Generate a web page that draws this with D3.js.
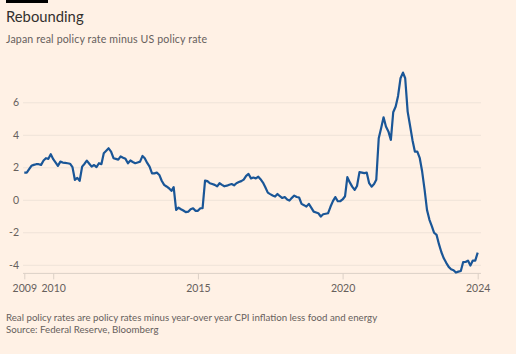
<!DOCTYPE html>
<html>
<head>
<meta charset="utf-8">
<script src="https://cdn.jsdelivr.net/npm/d3@7"></script>
<style>
    body { margin: 0; background: #fff1e5; }
    svg { display: block; font-family: Lato, "Noto Sans", sans-serif; }
</style>
</head>
<body>
<div id="container"></div>
<script>
// Monthly series, Jan 2009 .. Sep 2024 (percentage points)
const startMonth = new Date(2009, 0, 1);
const spreadValues = [
    1.70, 1.70, 1.90, 2.12, 2.18, 2.22, 2.22, 2.18, 2.45, 2.59, 2.55, 2.84,   // 2009
    2.53, 2.32, 2.12, 2.38, 2.32, 2.30, 2.28, 2.25, 2.04, 1.26, 1.38, 1.20,   // 2010
    2.07, 2.25, 2.44, 2.25, 2.07, 2.17, 2.04, 2.28, 2.22, 2.90, 3.05, 3.20,   // 2011
    3.00, 2.59, 2.55, 2.50, 2.70, 2.62, 2.55, 2.28, 2.45, 2.36, 2.28, 2.33,   // 2012
    2.38, 2.73, 2.59, 2.30, 2.07, 1.66, 1.66, 1.70, 1.56, 1.20, 0.95, 0.85,   // 2013
    0.74, 0.58, 0.81, -0.59, -0.45, -0.55, -0.63, -0.73, -0.70, -0.55, -0.49, -0.65, // 2014
    -0.65, -0.49, -0.49, 1.21, 1.18, 1.05, 1.00, 0.95, 0.86, 1.05, 0.95, 0.86, // 2015
    0.90, 0.96, 1.00, 0.92, 1.05, 1.12, 1.18, 1.27, 1.50, 1.62, 1.35, 1.40,   // 2016
    1.35, 1.45, 1.30, 1.09, 0.80, 0.47, 0.38, 0.30, 0.23, 0.39, 0.25, 0.14,   // 2017
    0.20, 0.05, -0.02, 0.15, 0.29, 0.20, 0.17, -0.22, -0.30, -0.39, -0.22, -0.45, // 2018
    -0.70, -0.75, -0.80, -1.00, -0.86, -0.83, -0.80, -0.40, -0.05, 0.20, -0.06, -0.06, // 2019
    0.05, 0.25, 1.42, 1.10, 0.84, 0.64, 0.88, 1.73, 1.70, 1.67, 1.70, 1.05,   // 2020
    0.84, 1.00, 1.26, 3.82, 4.44, 5.11, 4.54, 4.24, 3.72, 5.42, 5.77, 6.42,   // 2021
    7.51, 7.86, 7.51, 5.46, 4.60, 3.70, 3.00, 3.00, 2.59, 1.77, 0.64, -0.59,  // 2022
    -1.20, -1.60, -2.00, -2.13, -2.70, -3.20, -3.57, -3.85, -4.10, -4.24, -4.30, -4.45, // 2023
    -4.39, -4.35, -3.81, -3.80, -3.71, -4.02, -3.71, -3.71, -3.22              // 2024
];

const yTicks = [-4, -2, 0, 2, 4, 6];
const xTickDates = [new Date(2009, 0, 1), new Date(2010, 0, 1), new Date(2015, 0, 1),
    new Date(2020, 0, 1), new Date(2024, 8, 1)];

const titleText = "Rebounding";
const subtitleText = "Japan real policy rate minus US policy rate";
const noteText = "Real policy rates are policy rates minus year-over year CPI inflation less food and energy";
const sourceText = "Source: Federal Reserve, Bloomberg";

const width = 516, height = 354;

const data = spreadValues.map((v, i) => ({date: d3.timeMonth.offset(startMonth, i), value: v}));

const svg = d3.select("#container")
    .append("svg")
    .attr("width", width)
    .attr("height", height);

svg.append("rect")
    .attr("width", width)
    .attr("height", height)
    .attr("fill", "#fff1e5");

// FT style bar above the title
svg.append("rect")
    .attr("x", 6).attr("y", 0)
    .attr("width", 42).attr("height", 3)
    .attr("fill", "#000");

svg.append("text")
    .attr("x", 6).attr("y", 22)
    .attr("font-size", 14.8)
    .attr("fill", "#33302e")
    .text(titleText);

svg.append("text")
    .attr("x", 6).attr("y", 42.5)
    .attr("font-size", 10.6)
    .attr("textLength", 201)
    .attr("lengthAdjust", "spacing")
    .attr("fill", "#66605c")
    .text(subtitleText);

const x = d3.scaleTime()
    .domain([startMonth, data[data.length - 1].date])
    .range([24.3, 477.7]);

const y = d3.scaleLinear()
    .domain([-4.5, 8])
    .range([273.4, 70.3]);

const gridLeft = 23, gridRight = 481;

// horizontal grid + labels
const yAxis = svg.append("g");
yAxis.selectAll("line")
    .data(yTicks)
    .enter()
    .append("line")
    .attr("x1", gridLeft).attr("x2", gridRight)
    .attr("y1", d => y(d)).attr("y2", d => y(d))
    .attr("stroke", "#efe3d8")
    .attr("stroke-width", 1);
yAxis.selectAll("text")
    .data(yTicks)
    .enter()
    .append("text")
    .attr("x", 19)
    .attr("y", d => y(d))
    .attr("dy", "0.35em")
    .attr("text-anchor", "end")
    .attr("font-size", 10.5)
    .attr("fill", "#66605c")
    .text(d => d);

// bottom axis
const xAxis = svg.append("g")
    .attr("transform", `translate(0,${y(-4.5)})`)
    .call(d3.axisBottom(x)
        .tickValues(xTickDates)
        .tickFormat(d3.timeFormat("%Y"))
        .tickSize(6)
        .tickPadding(5));
xAxis.select(".domain")
    .attr("d", `M${gridLeft},0H${gridRight}`)
    .attr("stroke", "#dcd0c6");
xAxis.selectAll(".tick line").attr("stroke", "#dcd0c6");
xAxis.selectAll(".tick text")
    .attr("font-family", "Lato, 'Noto Sans', sans-serif")
    .attr("font-size", 10.5)
    .attr("fill", "#66605c");

const line = d3.line()
    .x(d => x(d.date))
    .y(d => y(d.value));

svg.append("path")
    .datum(data)
    .attr("d", line)
    .attr("fill", "none")
    .attr("stroke", "#1a5697")
    .attr("stroke-width", 2.2)
    .attr("stroke-linejoin", "round");

// footnote
svg.append("text")
    .attr("x", 6).attr("y", 320.5)
    .attr("font-size", 9.7)
    .attr("fill", "#66605c")
    .text(noteText);
svg.append("text")
    .attr("x", 6).attr("y", 333)
    .attr("font-size", 9.7)
    .attr("fill", "#66605c")
    .text(sourceText);
</script>
</body>
</html>
